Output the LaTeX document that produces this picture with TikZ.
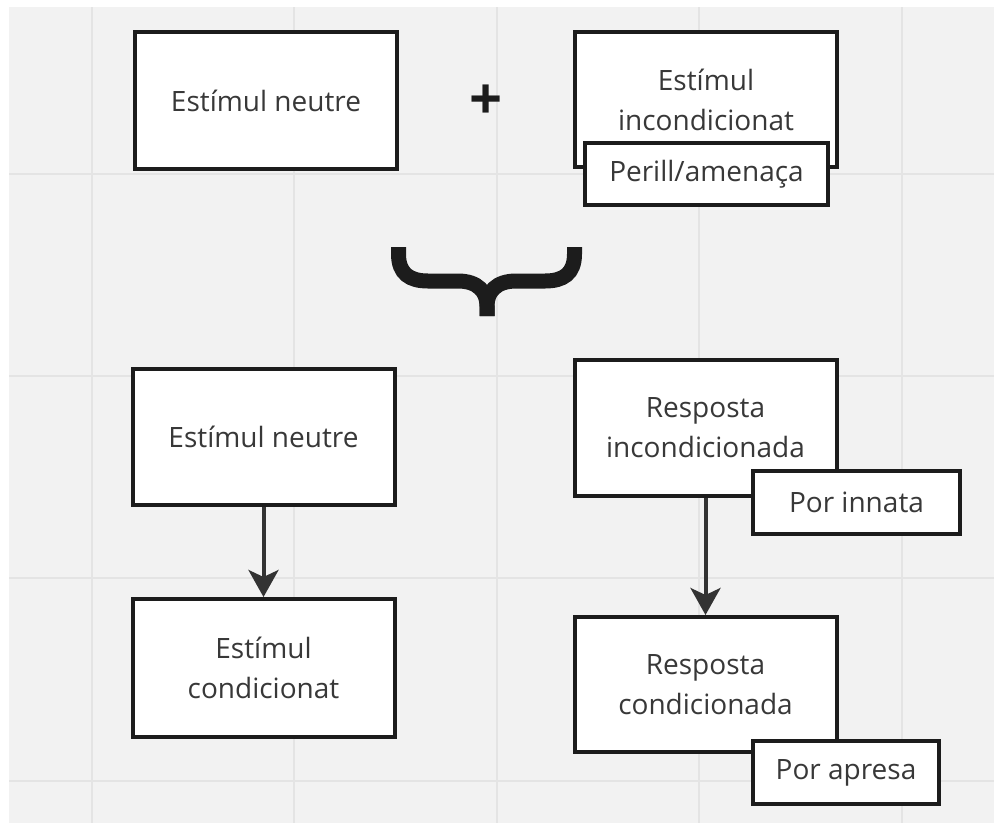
\documentclass[tikz,border=0pt]{standalone}
\usepackage{fontspec}
\setmainfont{Open Sans}
\usetikzlibrary{arrows.meta}
\definecolor{canvas}{HTML}{F2F2F2}
\definecolor{gridc}{HTML}{E4E4E4}
\definecolor{ink}{HTML}{1C1C1C}
\definecolor{txt}{HTML}{383838}
\definecolor{arrowc}{HTML}{333333}
\begin{document}
\begin{tikzpicture}[x=1pt,y=-1pt,
  box/.style={draw=ink, line width=4pt, fill=white, text=txt, align=center,
    font=\fontsize{28}{40}\selectfont, minimum width=262pt, minimum height=136pt,
    inner sep=0pt},
  tag/.style={draw=ink, line width=4pt, fill=white, text=txt, align=center,
    font=\fontsize{28}{40}\selectfont, minimum height=63pt, inner sep=0pt},
  flow/.style={draw=arrowc, line width=4pt,
    -{Stealth[length=27pt, width=30pt, inset=7pt]}},
  gridline/.style={draw=gridc, line width=1.5pt},
  bracepart/.style={draw=ink, line width=15pt}
]
\useasboundingbox (0,0) rectangle (994,823);
\fill[white] (0,0) rectangle (994,823);
\fill[canvas] (9,7) rectangle (994,823);
% canvas grid
\foreach \gx in {92,294,497,699,902}
  \draw[gridline] (\gx,7) -- (\gx,823);
\foreach \gy in {174,376,578,781}
  \draw[gridline] (9,\gy) -- (994,\gy);

% first row
\node[box, minimum height=137pt] (neutral1) at (266,100.5) {Estímul neutre};
\node[font=\fontsize{58}{58}\selectfont\bfseries, text=ink, inner sep=0pt] (plus) at (486,102) {+};
\node[box, minimum height=135pt] (uncond) at (706,99.5) {Estímul\\incondicionat};
\node[tag, minimum width=243pt, minimum height=62pt] (danger) at (706.5,174) {Perill/amenaça};

% brace
\draw[bracepart] (398.5,247) -- (398.5,254)
  .. controls (398.5,274) and (410,281) .. (428,281) -- (458,281)
  .. controls (478,281) and (487,292) .. (487,306) -- (487,316);
\draw[bracepart] (574.5,247) -- (574.5,254)
  .. controls (574.5,274) and (563,281) .. (545,281) -- (516,281)
  .. controls (496,281) and (487,292) .. (487,306) -- (487,316);

% second row
\node[box] (neutral2) at (263.5,437) {Estímul neutre};
\node[box, minimum height=138pt] (cond) at (263.5,668) {Estímul\\condicionat};
\node[box] (uresp) at (705.5,428) {Resposta\\incondicionada};
\node[box, minimum height=135pt] (cresp) at (705.5,684.5) {Resposta\\condicionada};
\node[tag, minimum width=207pt] (innate) at (856.5,502.5) {Por innata};
\node[tag, minimum width=186pt] (learned) at (846,772.5) {Por apresa};

% connectors
\draw[flow] (neutral2.south) -- (cond.north);
\draw[flow] (uresp.south) -- (cresp.north);
\end{tikzpicture}
\end{document}
